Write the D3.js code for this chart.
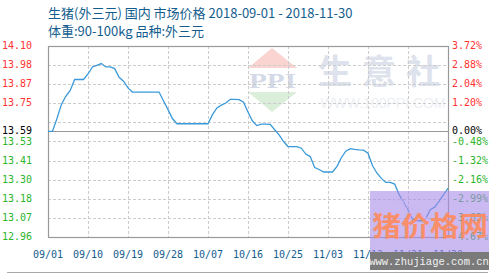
<!DOCTYPE html>
<html>
<head>
<meta charset="utf-8">
<script src="https://cdn.jsdelivr.net/npm/d3@7"></script>
<style>
  body { margin: 0; background: #fff; }
  svg { display: block; }
</style>
</head>
<body>
<div id="chart"></div>
<script>
// chart data
const startDate = "2018-09-01";
const prices = [
  13.59, 13.59, 13.666, 13.75, 13.80, 13.835, 13.90, 13.90, 13.90, 13.933,
  13.975, 13.985, 13.995, 13.975, 13.975, 13.965, 13.913, 13.89, 13.85, 13.825,
  13.825, 13.825, 13.825, 13.825, 13.825, 13.825, 13.772, 13.72, 13.667, 13.636,
  13.636, 13.636, 13.636, 13.636, 13.636, 13.636, 13.636, 13.69, 13.73, 13.747,
  13.76, 13.782, 13.782, 13.78, 13.765, 13.706, 13.652, 13.625, 13.634, 13.634,
  13.632, 13.60, 13.57, 13.53, 13.50, 13.50, 13.50, 13.49, 13.455, 13.44,
  13.375, 13.363, 13.348, 13.348, 13.348, 13.38, 13.433, 13.472, 13.487, 13.483,
  13.48, 13.478, 13.46, 13.387, 13.342, 13.31, 13.286, 13.286, 13.276, 13.213,
  13.17, 13.121, 13.067, 13.057, 13.057, 13.07, 13.123, 13.138, 13.174, 13.213,
  13.25
];
const basePrice = 13.59;
const yMin = 12.96, yMax = 14.10;
const leftLabels = ["12.96", "13.07", "13.18", "13.30", "13.41", "13.53", "", "13.75", "13.87", "13.98", "14.10"];
const rightLabels = ["-4.67%", "-3.83%", "-2.99%", "-2.16%", "-1.32%", "-0.48%", "", "1.20%", "2.04%", "2.88%", "3.72%"];
const xTickLabels = ["09/01", "09/10", "09/19", "09/28", "10/07", "10/16", "10/25", "11/03", "11/12", "11/21", "11/30"];
const title1 = "生猪(外三元) 国内 市场价格 2018-09-01 - 2018-11-30";
const title2 = "体重:90-100kg 品种:外三元";

const W = 495, H = 276;
const margin = {top: 46, right: 47, bottom: 39, left: 48};
const width = W - margin.left - margin.right,
      height = H - margin.top - margin.bottom;

const mono = "'DejaVu Sans Mono', monospace";
const cjk = "'Noto Sans CJK SC', 'Noto Sans', sans-serif";

const svg = d3.select("#chart").append("svg")
    .attr("width", W)
    .attr("height", H);

const parse = d3.timeParse("%Y-%m-%d");
const t0 = parse(startDate);
const data = prices.map((v, i) => ({date: d3.timeDay.offset(t0, i), value: v}));

const x = d3.scaleTime()
    .domain([t0, d3.timeDay.offset(t0, prices.length - 1)])
    .range([margin.left, margin.left + width]);
const y = d3.scaleLinear()
    .domain([yMin, yMax])
    .range([margin.top + height, margin.top]);

const step = (yMax - yMin) / (leftLabels.length - 1);
const levels = leftLabels.map((d, i) => yMin + i * step);
const xTicks = xTickLabels.map((d, i) => d3.timeDay.offset(t0, i * 9));

// titles
svg.append("text").attr("x", 48).attr("y", 18)
    .attr("font-family", cjk).attr("font-size", 13).attr("fill", "#135d8e")
    .text(title1);
svg.append("text").attr("x", 48).attr("y", 36)
    .attr("font-family", cjk).attr("font-size", 13).attr("fill", "#135d8e")
    .text(title2);

// watermark (100ppi)
const wm = svg.append("g");
wm.append("path")
    .attr("d", "M248,68 L272,48 L297,68 Z")
    .attr("fill", "#f7c9c4").attr("opacity", 0.8);
wm.append("text").attr("x", 249).attr("y", 88)
    .attr("font-family", "'Liberation Serif', serif").attr("font-weight", "bold")
    .attr("font-size", 22).attr("textLength", 47).attr("lengthAdjust", "spacingAndGlyphs")
    .attr("fill", "#d3d9e6").text("PPI");
wm.append("path")
    .attr("d", "M248,92 L297,92 L272,112 Z")
    .attr("fill", "#d6ecd6").attr("opacity", 0.9);
wm.append("text").attr("x", 384).attr("y", 84).attr("text-anchor", "middle")
    .attr("font-family", cjk).attr("font-weight", "bold")
    .attr("font-size", 34).attr("letter-spacing", 10).attr("fill", "#dde2ec").text("生意社");
wm.append("text").attr("x", 383).attr("y", 108).attr("text-anchor", "middle")
    .attr("font-family", "'Liberation Sans', sans-serif")
    .attr("font-size", 14).attr("fill", "#eceff4").text("WWW.100PPI.COM");

// grid
svg.append("g").selectAll("line.h")
    .data(levels)
    .enter().append("line")
    .attr("x1", margin.left).attr("x2", margin.left + width)
    .attr("y1", d => Math.round(y(d)) + 0.5).attr("y2", d => Math.round(y(d)) + 0.5)
    .attr("stroke", "#cccccc").attr("stroke-dasharray", "3,2");
svg.append("g").selectAll("line.v")
    .data(xTicks)
    .enter().append("line")
    .attr("x1", d => Math.round(x(d)) + 0.5).attr("x2", d => Math.round(x(d)) + 0.5)
    .attr("y1", margin.top).attr("y2", margin.top + height)
    .attr("stroke", "#cccccc").attr("stroke-dasharray", "3,2");

// base line
svg.append("line")
    .attr("x1", margin.left).attr("x2", margin.left + width)
    .attr("y1", Math.round(y(basePrice)) + 0.5).attr("y2", Math.round(y(basePrice)) + 0.5)
    .attr("stroke", "#999999").attr("stroke-width", 1);

// frame
svg.append("rect")
    .attr("x", margin.left + 0.5).attr("y", margin.top + 0.5)
    .attr("width", width).attr("height", height)
    .attr("fill", "none").attr("stroke", "#999999").attr("stroke-width", 1.2);

// price line
const line = d3.line()
    .x(d => x(d.date))
    .y(d => y(d.value));
svg.append("path")
    .datum(data)
    .attr("d", line)
    .attr("fill", "none")
    .attr("stroke", "#3a9ad9")
    .attr("stroke-width", 1.3);

// axis labels
function labelColor(v) {
    if (Math.abs(v - basePrice) < 1e-6) return "#000";
    return v > basePrice ? "#ff3333" : "#2db52d";
}
const leftG = svg.append("g").attr("font-family", mono).attr("font-size", 10);
leftG.selectAll("text")
    .data(levels.map((v, i) => ({v: v, t: leftLabels[i]})).filter(d => d.t !== "")
        .concat([{v: basePrice, t: basePrice.toFixed(2)}]))
    .enter().append("text")
    .attr("x", 2)
    .attr("y", d => y(d.v) + 3)
    .attr("fill", d => labelColor(d.v))
    .text(d => d.t);

const rightG = svg.append("g").attr("font-family", mono).attr("font-size", 10);
rightG.selectAll("text")
    .data(levels.map((v, i) => ({v: v, t: rightLabels[i]})).filter(d => d.t !== "")
        .concat([{v: basePrice, t: "0.00%"}]))
    .enter().append("text")
    .attr("x", 452)
    .attr("y", d => y(d.v) + 3)
    .attr("fill", d => labelColor(d.v))
    .text(d => d.t);

svg.append("g").attr("font-family", mono).attr("font-size", 10)
    .selectAll("text")
    .data(xTicks)
    .enter().append("text")
    .attr("x", d => x(d))
    .attr("y", 258)
    .attr("text-anchor", "middle")
    .attr("fill", "#135d8e")
    .text((d, i) => xTickLabels[i]);

// bottom rule
svg.append("line")
    .attr("x1", 7).attr("x2", 488).attr("y1", 272.5).attr("y2", 272.5)
    .attr("stroke", "#aaaaaa").attr("stroke-width", 1);

// zhujiage stamp
const zj = svg.append("g");
zj.append("rect").attr("x", 370).attr("y", 191).attr("width", 119).attr("height", 61)
    .attr("fill", "#a98ae8").attr("opacity", 0.6);
zj.append("text").attr("x", 392).attr("y", 200).attr("transform", "rotate(35,392,200)")
    .attr("font-family", mono).attr("font-size", 10).attr("fill", "#c9b6f2").text("zhujiage.com");
zj.append("text").attr("x", 372).attr("y", 236)
    .attr("font-family", cjk).attr("font-weight", "bold")
    .attr("font-size", 27).attr("textLength", 116).attr("lengthAdjust", "spacingAndGlyphs")
    .attr("fill", "#ff8a5c").attr("opacity", 0.9).text("猪价格网");
zj.append("rect").attr("x", 370).attr("y", 252).attr("width", 119).attr("height", 18)
    .attr("fill", "#7a7a7a");
zj.append("text").attr("x", 429).attr("y", 265).attr("text-anchor", "middle")
    .attr("font-family", "'Liberation Mono', monospace").attr("font-size", 10.5)
    .attr("fill", "#f2f2f2").text("www.zhujiage.com.cn");
</script>
</body>
</html>
